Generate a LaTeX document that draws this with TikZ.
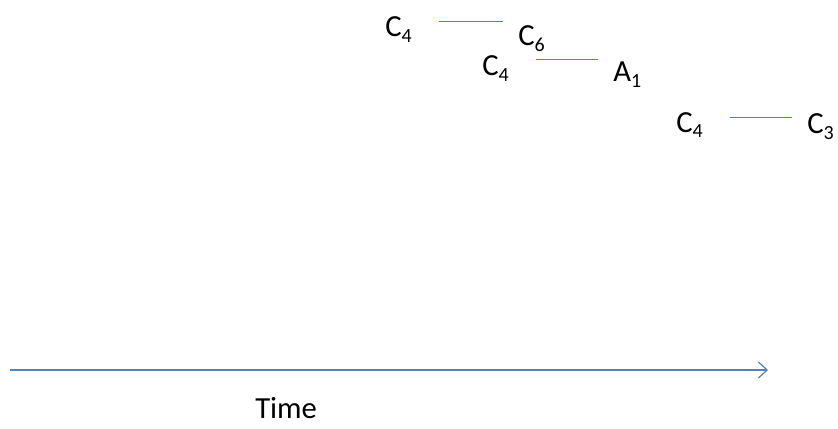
\documentclass[tikz,border=0pt]{standalone}
\usepackage{fontspec}
\setmainfont{Carlito}
\usepackage{xcolor}
\usepackage{tikz}
\usetikzlibrary{arrows.meta}

\definecolor{lineblue}{RGB}{79,129,189}
\newcommand{\lowsub}[1]{\raisebox{-4.5pt}{\fontsize{15}{18}\selectfont #1}}

\tikzset{
	lbl/.style={anchor=base west, inner sep=0pt, font=\fontsize{23}{28}\selectfont},
	link/.style={draw=lineblue, line width=0.9pt, shorten <=20pt, shorten >=11pt},
}

\begin{document}
\begin{tikzpicture}[x=0.75pt, y=-0.75pt]
			\useasboundingbox (0,0) rectangle (838,428);
			\node[lbl] (c4a) at (385,37) {C\lowsub{4}};
			\node[lbl] (c6) at (518,46) {C\lowsub{6}};
			\node[lbl] (c4b) at (482,75) {C\lowsub{4}};
			\node[lbl] (a1) at (613,82) {A\lowsub{1}};
			\node[lbl] (c4c) at (676,132) {C\lowsub{4}};
			\node[lbl] (c3) at (807,133) {C\lowsub{3}};
			\draw [link] (c4a.north east) ++(0,5) coordinate (s1) -- (s1 -| c6.west);
			\draw [link] (c4b.north east) ++(0,5) coordinate (s2) -- (s2 -| a1.west);
			\draw [link] (c4c.north east) ++(0,6) coordinate (s3) -- (s3 -| c3.west);
			\coordinate (t0) at (10,370);
			\coordinate (t1) at (768,370);
			\draw [draw=lineblue, line width=0.9pt, -{Straight Barb[length=6.5pt, width=12pt]}] (t0) -- (t1);
			\node[lbl] (time) at (255,418) {Time};
		\end{tikzpicture}
\end{document}
